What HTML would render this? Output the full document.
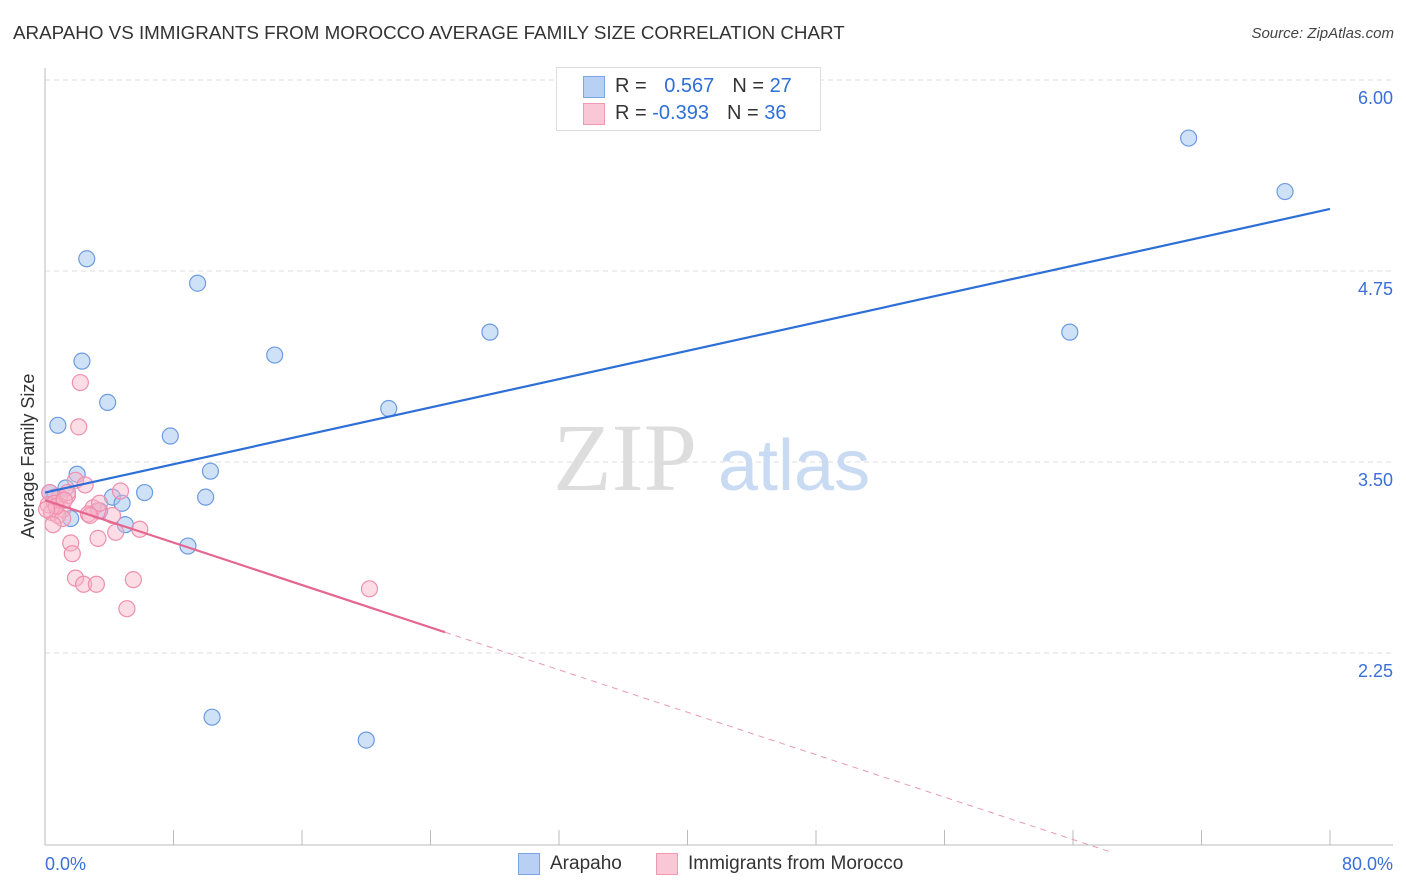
<!DOCTYPE html>
<html><head><meta charset="utf-8">
<style>
body{margin:0;background:#fff;font-family:"Liberation Sans",sans-serif;}
#wrap{position:relative;width:1406px;height:892px;overflow:hidden;}
.t{position:absolute;white-space:nowrap;}
</style></head>
<body>
<div id="wrap">
<div class="t" style="left:13px;top:22px;font-size:18.8px;color:#333;">ARAPAHO VS IMMIGRANTS FROM MOROCCO AVERAGE FAMILY SIZE CORRELATION CHART</div>
<div class="t" style="right:12px;top:25px;font-size:15px;color:#444;font-style:italic;">Source: ZipAtlas.com</div>
<svg id="chart" width="1406" height="892" style="position:absolute;left:0;top:0"></svg>
</div>
<script>
const yTicks=[6.00,4.75,3.50,2.25];
const yTickLabels=["6.00","4.75","3.50","2.25"];
const xTickCount=10;
const xLabels=["0.0%","80.0%"];
const arapahoX=[2.6,9.5,2.3,14.3,27.7,3.9,0.8,7.8,21.4,71.2,77.2,63.8,2.0,10.3,1.3,6.2,4.2,10.0,4.8,3.4,1.6,5.0,8.9,10.4,20.0,0.3,0.6];
const arapahoY=[4.83,4.67,4.16,4.20,4.35,3.89,3.74,3.67,3.85,5.62,5.27,4.35,3.42,3.44,3.33,3.30,3.27,3.27,3.23,3.18,3.13,3.09,2.95,1.83,1.68,3.30,3.27];
const moroccoX=[2.2,2.1,1.9,2.5,4.7,1.4,0.9,0.3,0.2,0.6,1.1,0.4,0.8,1.1,0.5,3.0,3.3,2.7,4.2,5.9,3.3,4.4,1.6,1.7,1.9,2.4,3.2,5.5,5.1,20.2,1.4,0.7,0.1,3.4,1.2,2.8];
const moroccoY=[4.02,3.73,3.38,3.35,3.31,3.28,3.27,3.30,3.22,3.23,3.19,3.17,3.15,3.13,3.09,3.20,3.18,3.16,3.15,3.06,3.00,3.04,2.97,2.90,2.74,2.70,2.70,2.73,2.54,2.67,3.30,3.21,3.19,3.23,3.25,3.15];
const arapahoTrend=[3.30,5.156];
const moroccoTrend=[3.25,-0.0347];
const moroccoSolidEnd=24.9, moroccoDashEnd=66.4;

const X0=45,X1=1330,Y6=80,PPU=152.8;
const xs=v=>X0+(v/80)*(X1-X0);
const ys=v=>Y6+(6-v)*PPU;
const svg=document.getElementById('chart');
const NS='http://www.w3.org/2000/svg';
function mk(tag,attrs){const e=document.createElementNS(NS,tag);for(const k in attrs)e.setAttribute(k,attrs[k]);svg.appendChild(e);return e;}

yTicks.forEach((v,i)=>{
  const g=mk('line',{x1:X0,x2:1393,y1:ys(v),y2:ys(v),stroke:'#ddd','stroke-dasharray':'5,4'});
  
  
  const t=mk('text',{x:1393,y:ys(v)+24,'text-anchor':'end','font-size':18,fill:'#3a6fd8','font-family':'Liberation Sans, sans-serif'});
  t.textContent=yTickLabels[i];
  
  
});
const ax=mk('line',{x1:X0,x2:X0,y1:68,y2:845,stroke:'#bbb'});


const bx=mk('line',{x1:X0,x2:1393,y1:845,y2:845,stroke:'#bbb'});


for(let i=1;i<=xTickCount;i++){
  const tk=mk('line',{x1:xs(i*8),x2:xs(i*8),y1:830,y2:845,stroke:'#bbb'});
  
  
}
const xl0=mk('text',{x:45,y:870,'font-size':18,fill:'#3a6fd8','font-family':'Liberation Sans, sans-serif'});xl0.textContent=xLabels[0];


const xl1=mk('text',{x:1393,y:870,'text-anchor':'end','font-size':18,fill:'#3a6fd8','font-family':'Liberation Sans, sans-serif'});xl1.textContent=xLabels[1];


const yt=mk('text',{x:34,y:456,'text-anchor':'middle','font-size':18,fill:'#333',transform:'rotate(-90 34 456)','font-family':'Liberation Sans, sans-serif'});yt.textContent='Average Family Size';


const w1=mk('text',{x:553,y:490,'font-size':96,fill:'#ddd','font-family':'Liberation Serif, serif'});w1.textContent='ZIP';


const w2=mk('text',{x:718,y:490,'font-size':72,fill:'#c9daf3','font-family':'Liberation Sans, sans-serif'});w2.textContent='atlas';



arapahoX.forEach((x,i)=>{
  const c=mk('circle',{cx:xs(x),cy:ys(arapahoY[i]),r:8,fill:'rgba(160,195,240,0.5)',stroke:'#6c9be0','stroke-width':1.2});
  
  
});
moroccoX.forEach((x,i)=>{
  const c=mk('circle',{cx:xs(x),cy:ys(moroccoY[i]),r:8,fill:'rgba(248,180,200,0.45)',stroke:'#ee8fae','stroke-width':1.2});
  
  
});
const bl=mk('line',{x1:xs(0),y1:ys(arapahoTrend[0]),x2:xs(80),y2:ys(arapahoTrend[1]),stroke:'#2d6fd6','stroke-width':2.2});


const mv=x=>moroccoTrend[0]+moroccoTrend[1]*x;
const pl=mk('line',{x1:xs(0),y1:ys(mv(0)),x2:xs(moroccoSolidEnd),y2:ys(mv(moroccoSolidEnd)),stroke:'#e5668f','stroke-width':2.2});


const pd=mk('line',{x1:xs(moroccoSolidEnd),y1:ys(mv(moroccoSolidEnd)),x2:xs(moroccoDashEnd),y2:ys(mv(moroccoDashEnd)),stroke:'#e99ab3','stroke-width':1,'stroke-dasharray':'6,5'});


</script>
<div style="position:absolute;left:556px;top:67px;width:263px;height:62px;border:1px solid #ddd;background:#fff;font-size:20px;">
  <div style="position:absolute;left:26px;top:8px;width:20px;height:20px;background:#b8d0f3;border:1px solid #7aa5e6;"></div>
  <div class="t" style="left:58px;top:7px;color:#333;">R = <span style="color:#2e6fd8;margin-left:12px">0.567</span><span style="margin-left:18px">N = </span><span style="color:#2e6fd8">27</span></div>
  <div style="position:absolute;left:26px;top:35px;width:20px;height:20px;background:#f9c7d5;border:1px solid #ee9ab5;"></div>
  <div class="t" style="left:58px;top:34px;color:#333;">R = <span style="color:#2e6fd8">-0.393</span><span style="margin-left:18px">N = </span><span style="color:#2e6fd8">36</span></div>
</div>
<div style="position:absolute;left:0;top:852px;width:1406px;font-size:19px;color:#333;">
  <div style="position:absolute;left:518px;top:1px;"><span style="position:absolute;left:0;top:0;width:20px;height:20px;background:#b8d0f3;border:1px solid #7aa5e6;"></span><span class="t" style="left:32px;top:0;">Arapaho</span></div>
  <div style="position:absolute;left:656px;top:1px;"><span style="position:absolute;left:0;top:0;width:20px;height:20px;background:#f9c7d5;border:1px solid #ee9ab5;"></span><span class="t" style="left:32px;top:0;">Immigrants from Morocco</span></div>
</div>
</body></html>
